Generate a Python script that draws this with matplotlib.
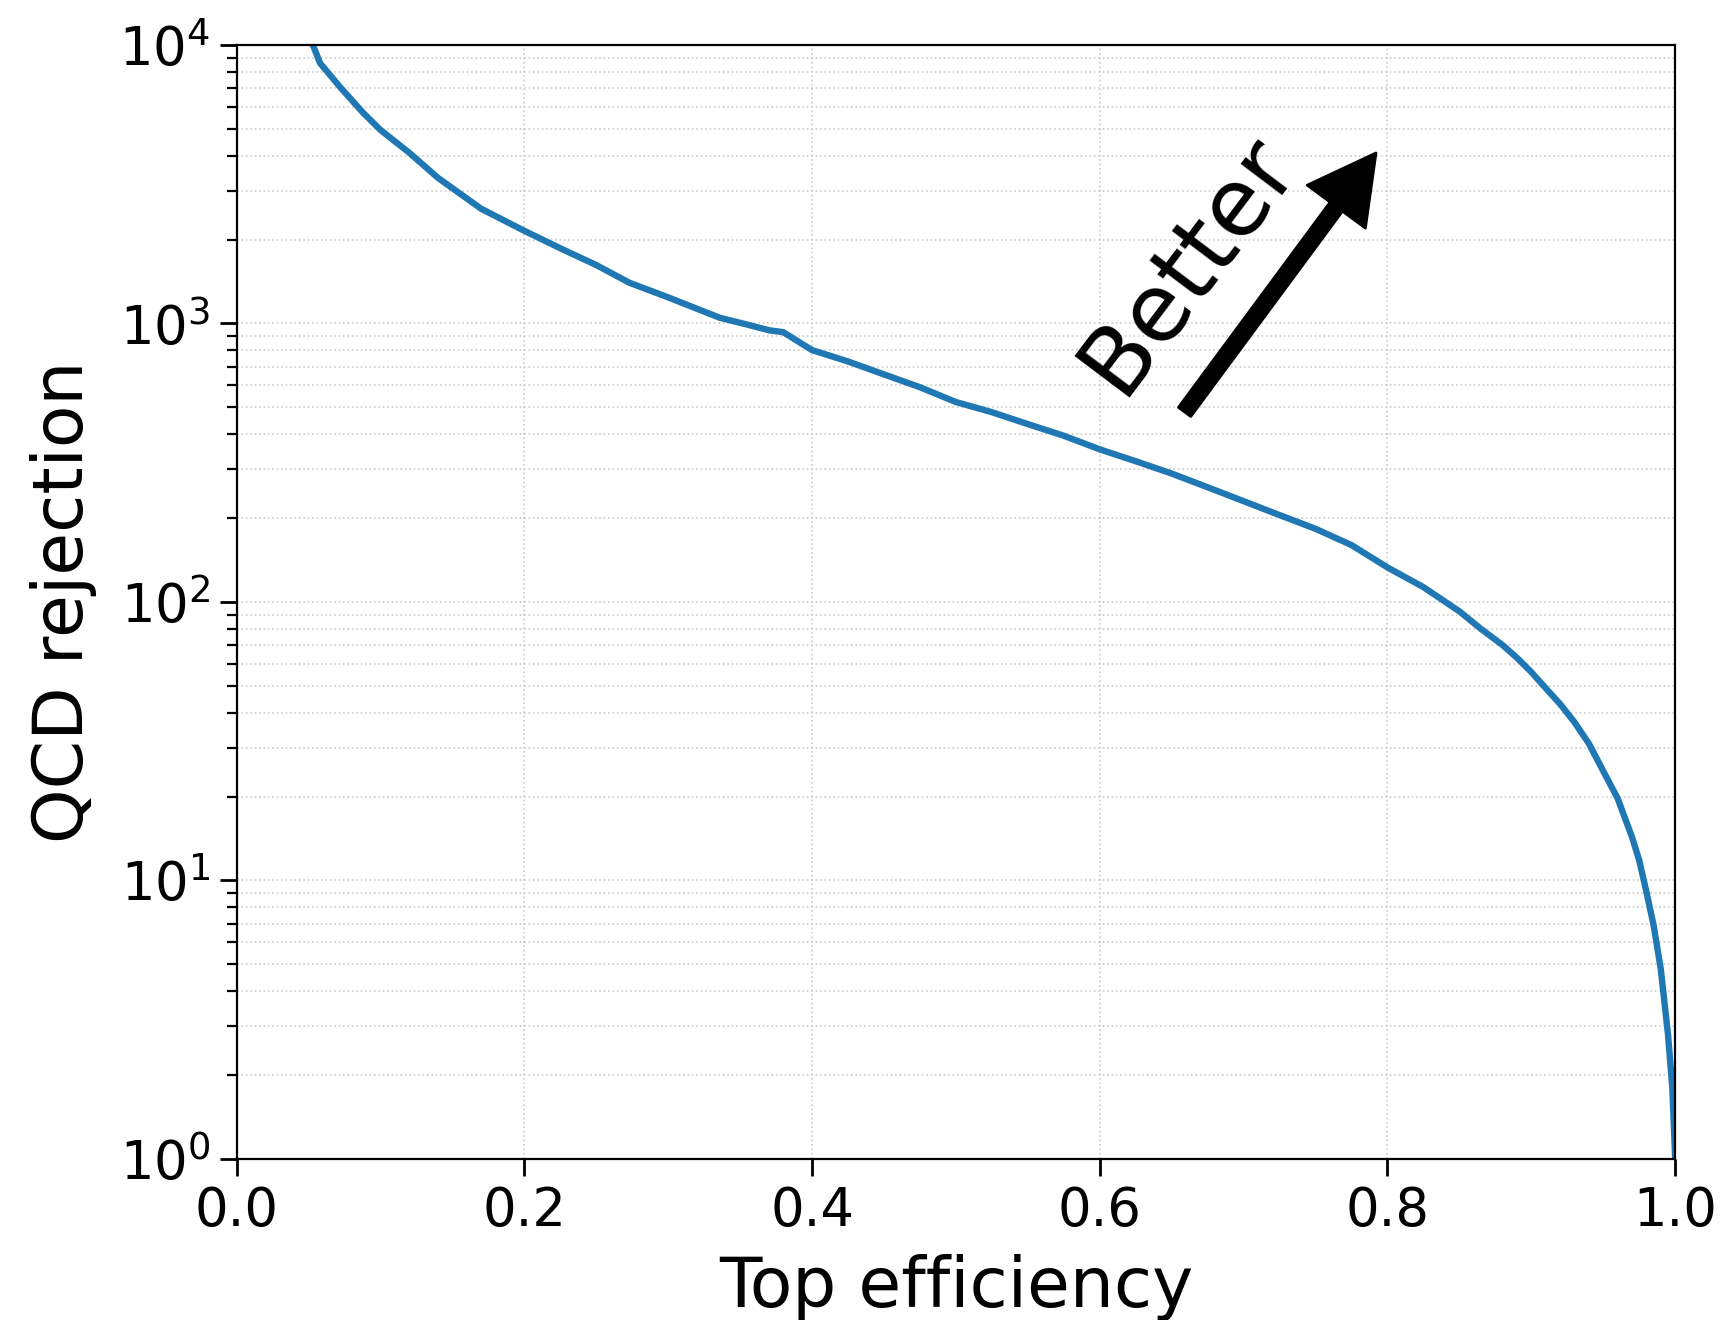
import numpy as np
import matplotlib.pyplot as plt

# ROC curve: top-tagging efficiency vs QCD rejection (1 / mistag rate)
top_eff = [0.053, 0.058, 0.072, 0.088, 0.10, 0.12, 0.14, 0.17, 0.20, 0.227, 0.25,
           0.273, 0.30, 0.336, 0.355, 0.37, 0.38, 0.40, 0.425, 0.45, 0.475, 0.50,
           0.525, 0.55, 0.575, 0.60, 0.625, 0.65, 0.675, 0.70, 0.725, 0.75, 0.775,
           0.80, 0.825, 0.85, 0.865, 0.88, 0.89, 0.90, 0.91, 0.92, 0.93, 0.94,
           0.95, 0.96, 0.97, 0.975, 0.98, 0.985, 0.99, 0.995, 0.998, 1.0]
qcd_rej = [10000, 8600, 7050, 5700, 4950, 4100, 3330, 2580, 2150, 1840, 1620,
           1400, 1240, 1047, 990, 945, 930, 802, 730, 656, 590, 522,
           480, 435, 395, 353, 320, 289, 258, 230, 205, 183, 160,
           133, 113, 92.5, 80, 70, 63, 56, 49, 43, 37, 31,
           24.7, 19.7, 14.3, 11.8, 9.1, 6.9, 4.8, 2.8, 1.8, 1.0]

x_ticks = [0.0, 0.2, 0.4, 0.6, 0.8, 1.0]

fig = plt.figure(figsize=(8.635, 6.6), dpi=200)
ax = fig.add_axes([0.137, 0.122, 0.833, 0.844])

ax.plot(top_eff, qcd_rej, color='#1f77b4', lw=2.3)
ax.set_yscale('log')
ax.set_xlim(0, 1)
ax.set_ylim(1, 1e4)
ax.set_xticks(x_ticks)

ax.grid(which='major', axis='x', linestyle=':', linewidth=0.6, color='#cccccc')
ax.grid(which='both', axis='y', linestyle=':', linewidth=0.6, color='#cccccc')

ax.tick_params(axis='both', which='major', labelsize=19, length=6, width=1)
ax.tick_params(axis='y', which='minor', length=3.5, width=0.8)

ax.set_xlabel('Top efficiency', fontsize=25, labelpad=6)
ax.set_ylabel('QCD rejection', fontsize=25, labelpad=8)

# "Better" arrow pointing to the upper right
ax.annotate('', xy=(0.792, 4090), xytext=(0.659, 481),
            arrowprops=dict(facecolor='black', edgecolor='black',
                            width=5.5, headwidth=26, headlength=24))
ax.text(0.662, 1630, 'Better', fontsize=34, rotation=53,
        ha='center', va='center')

fig.savefig('out.png', dpi=200)
